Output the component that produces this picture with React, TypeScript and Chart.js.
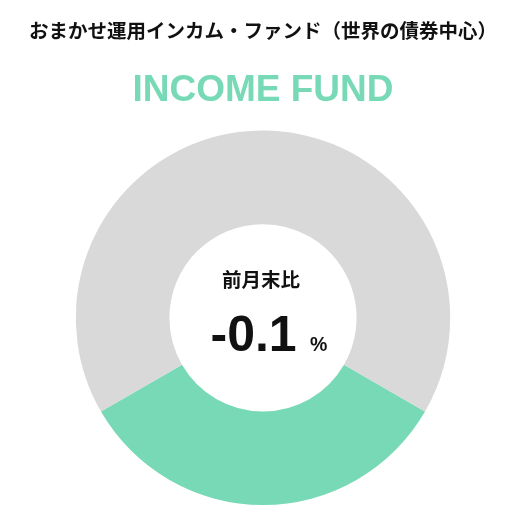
import { useEffect, useRef } from "react";
import { Chart, registerables } from "chart.js";

Chart.register(...registerables);

// chart data
const fundName = "おまかせ運用インカム・ファンド（世界の債券中心）";
const fundLabel = "INCOME FUND";
const segmentLabels = ["INCOME FUND", ""];
const segmentValues = [33.3, 66.7];
const segmentColors = ["#77d9b5", "#d9d9d9"];
const centerCaption = "前月末比";
const centerValue = "-0.1";
const centerUnit = "%";

const CJK_FONT = "'Noto Sans CJK JP', 'Noto Sans', sans-serif";
const LATIN_FONT = "'Liberation Sans', Arial, sans-serif";

// draws the caption and value in the hole of the doughnut
const centerText = {
  id: "centerText",
  afterDatasetsDraw(chart) {
    const { ctx, chartArea } = chart;
    const cx = (chartArea.left + chartArea.right) / 2;
    const cy = (chartArea.top + chartArea.bottom) / 2;
    ctx.save();
    ctx.fillStyle = "#111111";
    ctx.textAlign = "center";
    ctx.textBaseline = "middle";
    ctx.font = `bold 19.5px ${CJK_FONT}`;
    ctx.fillText(centerCaption, cx - 2, cy - 38);

    ctx.textAlign = "left";
    ctx.textBaseline = "alphabetic";
    ctx.font = `bold 50px ${LATIN_FONT}`;
    ctx.fillText(centerValue, cx - 52.5, cy + 33);
    ctx.font = `bold 19.5px ${LATIN_FONT}`;
    ctx.fillText(centerUnit, cx + 47, cy + 33);
    ctx.restore();
  },
};

const App = () => {
  const canvasRef = useRef(null);
  const chartRef = useRef(null);

  useEffect(() => {
    document.body.style.margin = "0";
    if (chartRef.current) {
      chartRef.current.destroy();
    }
    if (!canvasRef.current) return;

    const total = segmentValues.reduce((a, b) => a + b, 0);
    // center the first segment at the bottom
    const rotation = 180 - (segmentValues[0] / total) * 180;

    chartRef.current = new Chart(canvasRef.current, {
      type: "doughnut",
      data: {
        labels: segmentLabels,
        datasets: [
          {
            data: segmentValues,
            backgroundColor: segmentColors,
            borderWidth: 0,
            hoverOffset: 0,
          },
        ],
      },
      options: {
        animation: false,
        responsive: true,
        maintainAspectRatio: false,
        cutout: "50%",
        rotation,
        layout: { padding: { top: 0, bottom: 21, left: 0, right: 0 } },
        plugins: {
          legend: { display: false },
          tooltip: { enabled: false },
          title: {
            display: true,
            text: fundName,
            color: "#111111",
            font: { family: CJK_FONT, size: 19.5, weight: "bold", lineHeight: 1.2 },
            padding: { top: 18.6, bottom: 26.4 },
          },
          subtitle: {
            display: true,
            text: fundLabel,
            color: "#77d9b5",
            font: { family: LATIN_FONT, size: 37, weight: "bold", lineHeight: 1.2 },
            padding: { top: 0, bottom: 17.8 },
          },
        },
      },
      plugins: [centerText],
    });

    return () => {
      if (chartRef.current) {
        chartRef.current.destroy();
        chartRef.current = null;
      }
    };
  }, []);

  return (
    <div style={{ position: "relative", width: 526, height: 526 }}>
      <canvas ref={canvasRef} />
    </div>
  );
};

export default App;
